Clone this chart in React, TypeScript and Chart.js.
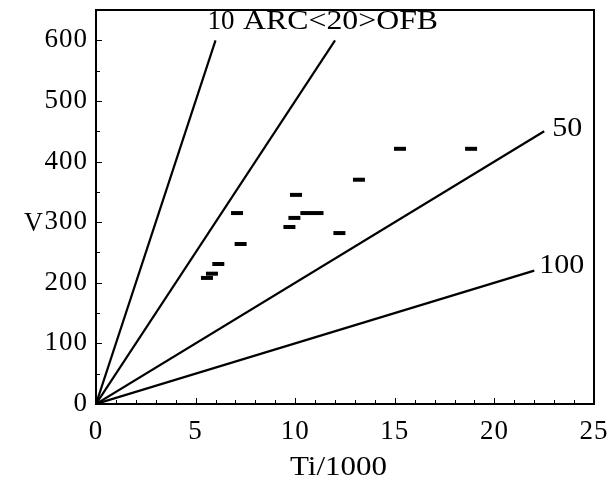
import React, { useEffect, useRef } from "react";
import { Chart, registerables } from "chart.js";

Chart.register(...registerables);

// Data points (Ti/1000, V)
const tiValues = [5.57, 5.82, 6.14, 7.08, 7.26, 9.71, 9.96, 10.04, 10.56, 11.12, 12.22, 13.2, 15.26, 18.83];
const vValues = [208, 215, 231, 315, 264, 292, 307, 345, 315, 315, 282, 370, 421, 421];

// Ratio lines from the origin: label, end point
const ratioLabels = ["10", "20", "50", "100"];
const ratioEndTi = [6, 12, 22.5, 22];
const ratioEndV = [600, 600, 450, 220];

// Axis ticks
const xTickValues = [0, 5, 10, 15, 20, 25];
const yTickValues = [0, 100, 200, 300, 400, 500, 600];
const xTitle = "Ti/1000";
const yTitle = "V";
const arcText = "ARC<20>OFB";

const FONT = "'Liberation Serif', 'Times New Roman', serif";

function stretchText(ctx: any, text: string, x: number, y: number, width: number) {
  const w = ctx.measureText(text).width;
  ctx.save();
  ctx.translate(x, y);
  ctx.scale(width / w, 1);
  ctx.textAlign = "left";
  ctx.fillText(text, 0, 0);
  ctx.restore();
}

const overlay = {
  id: "overlay",
  beforeUpdate(chart: any) {
    chart.ctx.letterSpacing = "1px";
  },
  beforeDraw(chart: any) {
    chart.ctx.letterSpacing = "1px";
  },
  afterDraw(chart: any) {
    const { ctx, chartArea: a, scales } = chart;
    const xs = scales.x;
    const ys = scales.y;
    ctx.save();
    ctx.strokeStyle = "#000";
    ctx.fillStyle = "#000";
    // frame
    ctx.lineWidth = 2;
    ctx.strokeRect(a.left, a.top, a.right - a.left, a.bottom - a.top);
    // inward ticks
    ctx.lineWidth = 1;
    ctx.beginPath();
    for (let v = 0; v <= 25; v += 1) {
      const px = Math.round(xs.getPixelForValue(v)) + 0.5;
      const len = v % 5 === 0 ? 6 : 4;
      ctx.moveTo(px, a.bottom);
      ctx.lineTo(px, a.bottom - len);
    }
    for (let v = 0; v <= 650; v += 50) {
      const py = Math.round(ys.getPixelForValue(v)) + 0.5;
      const len = v % 100 === 0 ? 6 : 4;
      ctx.moveTo(a.left, py);
      ctx.lineTo(a.left + len, py);
    }
    ctx.stroke();

    ctx.font = `27px ${FONT}`;
    ctx.textBaseline = "alphabetic";
    ctx.letterSpacing = "0px";
    const end = (i: number) => ({
      x: xs.getPixelForValue(ratioEndTi[i]),
      y: ys.getPixelForValue(ratioEndV[i]),
    });
    // line labels
    const e10 = end(0);
    ctx.textAlign = "left";
    ctx.fillText(ratioLabels[0], e10.x - 8, e10.y - 11);
    const e20 = end(1);
    stretchText(ctx, arcText, e20.x - 92, e20.y - 11, 195);
    const e50 = end(2);
    stretchText(ctx, ratioLabels[2], e50.x + 8, e50.y + 5, 30);
    const e100 = end(3);
    stretchText(ctx, ratioLabels[3], e100.x + 5, e100.y + 2, 45);

    // axis titles
    stretchText(ctx, xTitle, 290, 475, 97);
    stretchText(ctx, yTitle, 24, ys.getPixelForValue(300) + 9, 19);
    ctx.restore();
  },
};

export default function App() {
  const ref = useRef<HTMLCanvasElement | null>(null);
  useEffect(() => {
    if (!ref.current) return;
    const font = { family: FONT, size: 27 };
    const lineSets = ratioLabels.map((lab, i) => ({
      label: lab,
      data: [
        { x: 0, y: 0 },
        { x: ratioEndTi[i], y: ratioEndV[i] },
      ],
      showLine: true,
      borderColor: "#000",
      borderWidth: 2.2,
      pointRadius: 0,
      fill: false,
    }));
    const chart = new Chart(ref.current, {
      type: "scatter",
      data: {
        datasets: [
          {
            label: "V",
            data: tiValues.map((t, i) => ({ x: t, y: vValues[i] })),
            pointStyle: "line",
            pointRadius: 6,
            pointBorderWidth: 4,
            borderColor: "#000",
            backgroundColor: "#000",
            showLine: false,
          },
          ...lineSets,
        ] as any,
      },
      options: {
        responsive: false,
        animation: false,
        devicePixelRatio: 1,
        layout: { padding: { top: 9.5, right: 16, left: 0, bottom: 0 } },
        plugins: { legend: { display: false }, tooltip: { enabled: false } },
        scales: {
          x: {
            type: "linear",
            min: 0,
            max: 25,
            grid: { display: false, drawTicks: false },
            border: { display: false },
            ticks: { font, color: "#000", padding: 12, maxRotation: 0, autoSkip: false },
            afterBuildTicks: (s: any) => {
              s.ticks = xTickValues.map((v) => ({ value: v }));
            },
            afterFit: (s: any) => {
              s.height = 77;
              s.paddingLeft = 0;
              s.paddingRight = 0;
            },
          },
          y: {
            type: "linear",
            min: 0,
            max: 650,
            grid: { display: false, drawTicks: false },
            border: { display: false },
            ticks: { font, color: "#000", padding: 8, autoSkip: false },
            afterBuildTicks: (s: any) => {
              s.ticks = yTickValues.map((v) => ({ value: v }));
            },
            afterFit: (s: any) => {
              s.width = 96;
              s.paddingTop = 0;
              s.paddingBottom = 0;
            },
          },
        },
      } as any,
      plugins: [overlay],
    });
    return () => chart.destroy();
  }, []);
  return (
    <div style={{ position: "absolute", left: 0, top: 0, width: 610, height: 481, background: "#fff" }}>
      <canvas ref={ref} width={610} height={481} style={{ display: "block" }} />
    </div>
  );
}
